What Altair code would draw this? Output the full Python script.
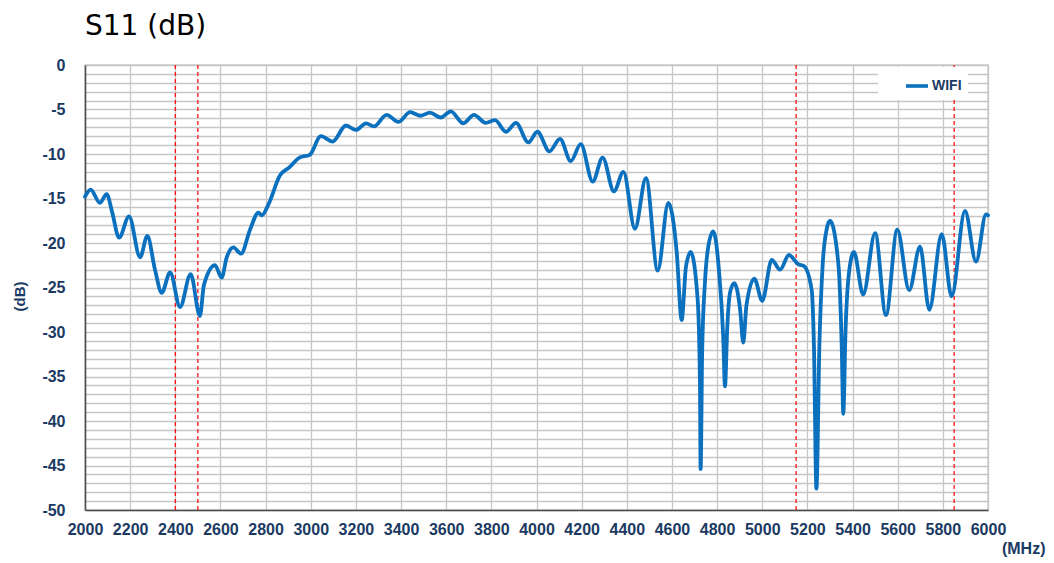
import altair as alt
import pandas as pd

# ---- data ----
freq_mhz = [
    2000, 2025, 2066, 2096, 2120, 2151, 2195, 2244, 2276, 2310,
    2340, 2377, 2421, 2468, 2509, 2527, 2576, 2605, 2628, 2657,
    2691, 2731, 2768, 2783, 2812, 2864, 2905, 2950, 2995, 3045,
    3097, 3156, 3200, 3245, 3280, 3336, 3388, 3440, 3487, 3528,
    3576, 3620, 3676, 3723, 3775, 3816, 3865, 3909, 3964, 4004,
    4057, 4104, 4152, 4196, 4249, 4293, 4343, 4385, 4436, 4485,
    4537, 4584, 4621, 4643, 4662, 4683, 4714, 4724, 4727, 4734,
    4746, 4761, 4783, 4808, 4827, 4835, 4845, 4858, 4876, 4902,
    4916, 4930, 4965, 5000, 5042, 5079, 5118, 5160, 5185, 5219,
    5229, 5240, 5253, 5268, 5285, 5300, 5337, 5352, 5359, 5369,
    5384, 5406, 5447, 5500, 5548, 5598, 5651, 5699, 5740, 5795,
    5839, 5898, 5947, 5991, 6000,
]
s11_db = [
    -14.8, -14.0, -15.5, -14.5, -16.5, -19.4, -17.0, -21.6, -19.2, -23.0,
    -25.6, -23.3, -27.2, -23.5, -28.2, -24.7, -22.5, -23.9, -21.6, -20.5,
    -21.2, -18.5, -16.6, -16.9, -15.7, -12.4, -11.5, -10.4, -10.1, -8.0,
    -8.6, -6.8, -7.3, -6.55, -6.9, -5.6, -6.4, -5.3, -5.7, -5.35,
    -5.9, -5.2, -6.55, -5.6, -6.5, -6.2, -7.5, -6.5, -8.7, -7.5,
    -9.7, -8.3, -10.8, -8.9, -13.1, -10.4, -14.2, -12.0, -18.4, -12.7,
    -23.1, -15.5, -21.0, -28.65, -22.7, -21.0, -26.4, -35.8, -45.4, -32.0,
    -24.5, -20.4, -18.7, -23.0, -30.5, -36.1, -29.5, -25.5, -24.5, -27.5,
    -31.2, -27.0, -24.0, -26.5, -21.9, -23.0, -21.35, -22.4, -22.6, -25.3,
    -31.6, -47.6, -31.6, -22.3, -18.5, -17.5, -22.3, -31.6, -39.2, -29.8,
    -23.4, -21.0, -25.8, -18.9, -28.1, -18.5, -25.3, -20.4, -27.5, -19.0,
    -26.0, -16.4, -22.1, -16.8, -16.9,
]
series_name = ["WIFI"] * len(freq_mhz)
band_edges_mhz = [2400, 2500, 5150, 5850]
x_tick_values = list(range(2000, 6001, 200))
y_grid_values = list(range(-50, 1, 1))

df = pd.DataFrame({"freq": freq_mhz, "s11": s11_db, "series": series_name})
edges = pd.DataFrame({"freq": band_edges_mhz})

NAVY = "#1B3A63"
LINE_BLUE = "#0B70BD"
LABEL_FONT = "Liberation Sans"

x_scale = alt.Scale(domain=[2000, 6000], nice=False, zero=False)
y_scale = alt.Scale(domain=[-50, 0], nice=False, zero=False)

x_axis = alt.Axis(
    values=x_tick_values,
    title="(MHz)",
    grid=True,
    ticks=False,
    labelPadding=11,
    labelFont=LABEL_FONT,
    labelFontSize=16,
    labelFontWeight="bold",
    labelColor=NAVY,
    labelFlush=False,
    labelOverlap=False,
    labelBound=False,
    format="d",
    titleFont=LABEL_FONT,
    titleFontSize=16,
    titleFontWeight="bold",
    titleColor=NAVY,
    titleX=960,
    titleY=46,
    titleAlign="right",
    titleBaseline="bottom",
)

y_axis = alt.Axis(
    values=y_grid_values,
    labelExpr="datum.value % 5 == 0 ? '' + datum.value : ''",
    title="(dB)",
    grid=True,
    ticks=False,
    labelPadding=20,
    labelFont=LABEL_FONT,
    labelFontSize=16,
    labelFontWeight="bold",
    labelColor=NAVY,
    labelOverlap=False,
    labelBound=False,
    labelFlush=False,
    titleFont=LABEL_FONT,
    titleFontSize=15,
    titleFontWeight="bold",
    titleColor=NAVY,
    titleX=-66,
    titleY=231,
    titleAngle=270,
    titleAlign="center",
    titleBaseline="middle",
)

rules = alt.Chart(edges).mark_rule(
    color="#FF0000", strokeDash=[4, 3], strokeWidth=1.2
).encode(
    x=alt.X("freq:Q", scale=x_scale, axis=x_axis),
)

line = alt.Chart(df).mark_line(
    interpolate="monotone", strokeWidth=3.8, strokeCap="round", strokeJoin="round"
).encode(
    x=alt.X("freq:Q", scale=x_scale, axis=x_axis),
    y=alt.Y("s11:Q", scale=y_scale, axis=y_axis),
    color=alt.Color(
        "series:N",
        scale=alt.Scale(domain=["WIFI"], range=[LINE_BLUE]),
        legend=alt.Legend(
            title=None,
            orient="none",
            legendX=793,
            legendY=2,
            symbolType="stroke",
            symbolStrokeWidth=3.6,
            symbolSize=484,
            symbolOffset=20,
            labelOffset=2,
            labelFont=LABEL_FONT,
            labelFontSize=14,
            labelFontWeight="bold",
            labelColor=NAVY,
            fillColor="white",
            padding=6,
        ),
    ),
)

chart = alt.layer(rules, line).properties(
    width=903,
    height=445,
    autosize=alt.AutoSizeParams(type="none"),
    padding={"left": 77, "top": 57, "right": 58, "bottom": 48},
    background="white",
    title=alt.TitleParams(
        "S11 (dB)",
        anchor="start",
        frame="group",
        font="DejaVu Sans",
        fontSize=28,
        fontWeight="normal",
        color="black",
        offset=16,
    ),
).configure_view(
    stroke="#b3b3b3", strokeWidth=1.3
).configure_axis(
    gridColor="#c6c6c6",
    gridWidth=1.3,
    domainColor="#4d4d4d",
    domainWidth=1.5,
)

chart.save("out.html", embed_options={"renderer": "svg", "actions": False})
